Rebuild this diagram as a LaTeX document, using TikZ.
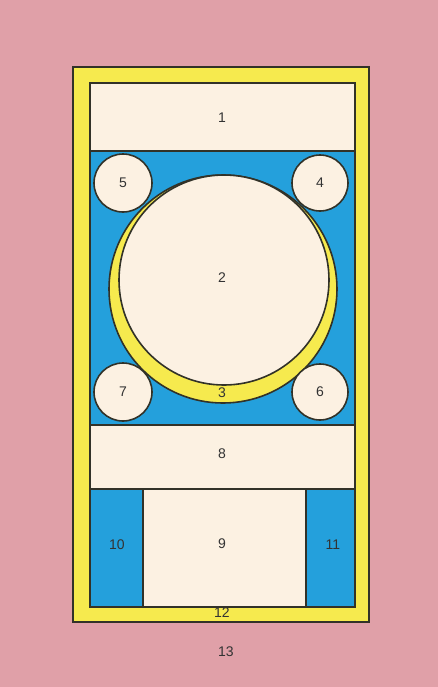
\documentclass[tikz,border=0pt]{standalone}
\usepackage{fontspec}
\setsansfont{Liberation Sans}
\usetikzlibrary{positioning}
\definecolor{bgpink}{RGB}{224,160,168}
\definecolor{rimyellow}{RGB}{246,234,78}
\definecolor{seablue}{RGB}{36,160,220}
\definecolor{creamc}{RGB}{252,241,226}
\definecolor{edge}{RGB}{50,50,40}
\begin{document}
\begin{tikzpicture}[x=0.5pt,y=-0.5pt, every node/.style={font=\sffamily\fontsize{7}{8}\selectfont,text=black!80}, rim/.style={fill=rimyellow,draw=edge,line width=0.8pt}, cream/.style={fill=creamc,draw=edge,line width=0.8pt}, bluepart/.style={fill=seablue,draw=edge,line width=0.8pt}]
\fill[bgpink] (0,0) rectangle (438,687);
\draw[rim] (73,67) rectangle (369,622);
\draw[bluepart] (90,83) rectangle (355,607);
\draw[cream] (90,83) rectangle (355,151);
\draw[cream] (90,425) rectangle (355,489);
\draw[cream] (143,489) rectangle (306,607);
\draw[rim] (223,289) circle[radius=114];
\draw[cream] (224,280) circle[radius=105];
\draw[cream] (123,183) circle[radius=29];
\draw[cream] (320,183) circle[radius=28];
\draw[cream] (123,392) circle[radius=29];
\draw[cream] (320,392) circle[radius=28];
% labels
\node (l1) at (222,118) {1};
\node (l2) at (222,278) {2};
\node (l3) at (222,393) {3};
\node (l4) at (320,183) {4};
\node (l5) at (123,183) {5};
\node (l6) at (320,392) {6};
\node (l7) at (123,392) {7};
\node (l8) at (222,454) {8};
\node (l9) at (222,544) {9};
\node (l10) at (117,545) {10};
\node (l11) at (333,545) {11};
\node (l12) at (222,613) {12};
\node (l13) at (226,652) {13};
\end{tikzpicture}
\end{document}
